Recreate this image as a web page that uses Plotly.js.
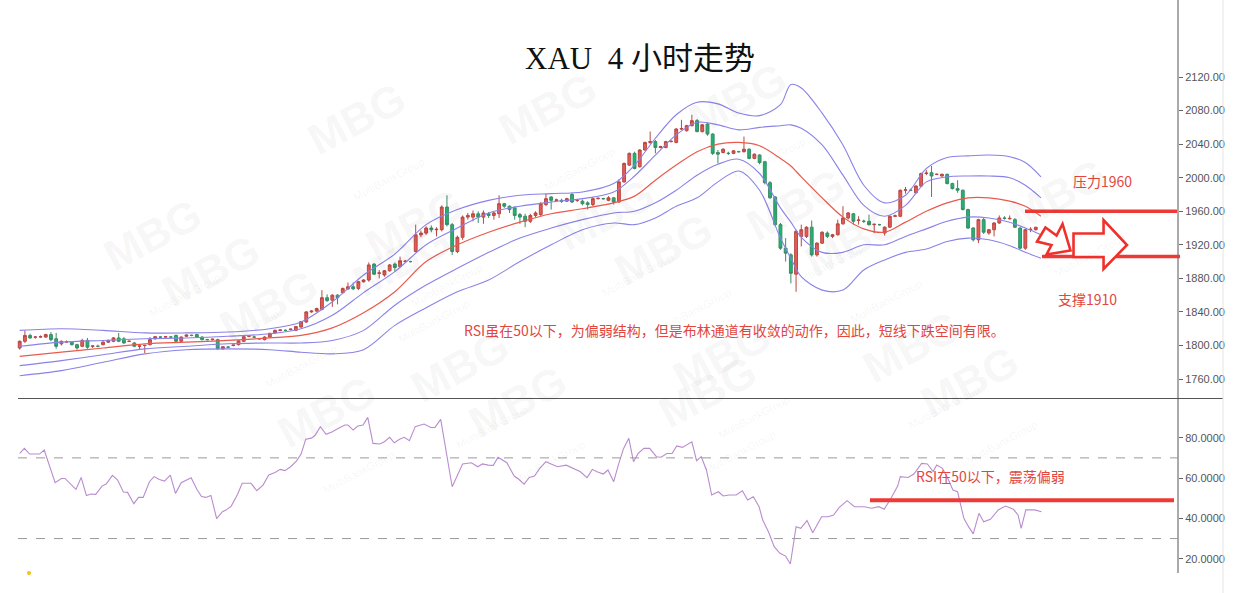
<!DOCTYPE html>
<html><head><meta charset="utf-8">
<script src="https://cdn.plot.ly/plotly-3.0.1.min.js"></script>
<style>html,body{margin:0;padding:0;background:#fff}#chart{width:1242px;height:593px}</style>
</head><body><div id="chart"></div>
<script>
// ---------- DATA ----------
const chartTitle = 'XAU  4 小时走势';
const opens  = [1797,1805,1812,1810,1810,1810,1813,1808,1802,1804,1804,1801,1799,1806,1799,1799,1801,1804,1805,1809,1808,1805,1803,1799,1800,1801,1808,1810,1810,1810,1812,1805,1811,1812,1813,1810,1807,1807,1807,1796,1798,1800,1801,1805,1811,1810,1808,1807,1810,1815,1818,1818,1819,1818,1822,1828,1840,1841,1843,1857,1854,1860,1863,1867.5,1870,1868,1876,1878,1897,1886,1884,1889,1897,1894,1900,1900,1912,1932,1934,1940,1938,1938,1965,1944,1912,1929,1953,1953,1957,1953,1957,1955,1957,1969,1966,1964,1956,1954,1948,1955,1956,1968,1977,1973,1973,1972,1980,1973,1972,1970,1968,1975,1975,1973,1976,1971,1995,2015,2029,2013,2033,2042,2043,2036,2036,2043,2042,2058,2056,2062,2068,2055,2064,2052,2030,2030,2029,2029,2031,2031,2034,2023,2027,2019,1994,1977,1944,1916,1908,1885,1930,1930,1941,1908,1922,1934,1930,1932,1945,1952,1957,1949,1948,1948,1944,1944,1934,1941,1954,1954,1985,1985,1982,1990,2005,2006,2004,2002,2004,1993,1987,1985,1962,1940,1926,1950,1934,1938,1946,1952,1951,1950,1940,1916,1938,1938];
const highs  = [1806,1818,1814,1811,1812,1814,1816,1815,1806,1806,1805,1802,1808,1809,1800,1801,1805,1807,1810,1815,1810,1806,1804,1800,1801,1810,1811,1811,1811,1811,1813,1811,1813,1813,1814,1811,1808,1808,1808,1799,1799,1801,1806,1811,1812,1811,1809,1811,1815,1819,1819,1819,1820,1823,1829,1841,1842,1845,1866,1861,1861,1861,1869,1875,1875,1877,1879,1899,1898,1890,1890,1897,1899,1906,1902,1901,1944,1937,1942,1943,1941,1967,1979,1946,1931,1955,1958,1961,1960,1961,1959,1960,1979,1970,1967,1966,1958,1957,1957,1960,1971,1981,1978,1975,1975,1976,1982,1974,1974,1972,1977,1976,1976,1978,1977,1998,2018,2030,2031,2034,2043,2055,2045,2038,2044,2044,2059,2069,2063,2075,2070,2064,2065,2053,2033,2035,2031,2033,2032,2049,2035,2029,2028,2020,1996,1978,1946,1928,1910,1938,1944,1942,1949,1923,1936,1936,1933,1950,1966,1959,1958,1954,1950,1956,1945,1945,1942,1955,1956,1986,1989,1987,1991,2006,2009,2014,2005,2005,2005,1994,1997,1986,1963,1941,1951,1952,1939,1947,1955,1954,1955,1952,1941,1939,1941,1941];
const lows   = [1795,1803,1808,1808,1809,1809,1805,1796,1800,1803,1800,1795,1798,1796,1797,1798,1800,1803,1804,1804,1802,1804,1798,1795,1791,1800,1807,1809,1809,1809,1804,1804,1810,1811,1809,1806,1806,1806,1795,1795,1797,1799,1800,1804,1810,1809,1807,1806,1809,1814,1817,1817,1818,1817,1821,1827,1839,1840,1842,1852,1846,1849,1862,1866,1866,1866,1875,1876,1884,1880,1882,1888,1888,1893,1899,1899,1911,1929,1932,1935,1930,1936,1942,1908,1910,1926,1950,1948,1946,1945,1952,1950,1952,1964,1958,1950,1945,1941,1946,1953,1954,1966,1962,1971,1970,1971,1970,1971,1967,1962,1966,1974,1974,1972,1968,1970,1994,2014,2010,2012,2032,2040,2029,2035,2035,2042,2041,2057,2055,2061,2054,2054,2050,2027,2017,2029,2027,2028,2030,2030,2022,2022,2016,1992,1975,1942,1914,1900,1874,1864,1918,1928,1906,1906,1921,1928,1928,1931,1944,1950,1944,1944,1946,1943,1934,1943,1931,1940,1953,1953,1981,1984,1981,1989,2003,1977,2003,2001,1992,1986,1982,1961,1939,1924,1922,1933,1932,1930,1945,1950,1950,1940,1915,1914,1935,1937];
const closes = [1805,1812,1809,1810,1810.5,1813,1807,1799,1805,1804.5,1801,1797,1806,1798,1799.5,1799,1804,1806,1809,1805,1803,1805,1799,1799.5,1800,1807,1810.5,1810,1810.5,1810,1805,1810,1812.5,1812,1810,1807,1807,1807.5,1796,1798.5,1798,1800.5,1805.5,1810.5,1811,1810,1808,1810,1814.5,1818,1818.5,1818,1819.5,1822.5,1828.5,1840,1841,1844,1857,1853.5,1860,1857,1868,1870,1867.5,1876,1878,1896,1885,1886.5,1889,1896,1893,1901,1900.5,1900,1932,1934,1940,1938,1938.5,1965,1944,1912,1929,1953,1955,1957,1953,1958,1955,1958,1969,1966,1962,1955,1953,1948,1955,1958,1969,1975,1973,1973.5,1972,1975,1971,1973,1969,1968,1975,1975.5,1975,1976,1971,1995,2017,2029,2011,2033,2042,2043,2036,2037,2043,2043.5,2058,2058.5,2062,2068,2055,2063,2052,2029,2028,2034,2029,2032,2031,2034,2023,2028,2018,1994,1976,1944,1916,1910,1886,1936,1938,1941,1908,1922,1935,1930,1932,1945,1952,1958,1948,1949.5,1948,1944,1944.5,1944,1941,1954,1954.5,1985,1985.5,1985,1990,2005,2005.5,2002,2004,2004,1993,1987,1985,1962,1940,1926,1950,1935,1938,1946,1952,1951.5,1951.5,1941,1916,1938,1938.5,1941];

// Bollinger band lines read at sample candle positions
const bandIdx   = [0,8,16,24,32,40,48,54,60,66,72,78,84,90,96,102,108,114,118,122,126,130,134,138,142,146,148,150,154,158,162,166,170,174,178,182,186,190,193,196];
const bandUpper2= [1818,1820,1818,1815,1815,1816,1820,1828,1852,1884,1909,1944,1962,1973,1979,1981,1983,1993,2015,2047,2075,2090,2088,2077,2074,2087,2111,2107,2077,2039,1991,1970,1979,2011,2024,2026,2027,2025,2018,2001];
const bandUpper1= [1799,1804,1806,1808,1809,1811,1814,1820,1836,1863,1888,1920,1940,1958,1966,1971,1975,1983,2002,2027,2051,2066,2063,2057,2060,2062,2063,2059,2039,2003,1967,1954,1967,1995,2001,2002,2002,2000,1991,1976];
const bandMid   = [1787,1792,1797,1802,1804,1806,1809,1812,1821,1839,1864,1900,1920,1935,1947,1957,1963,1970,1978,1997,2015,2031,2040,2042,2038,2023,2014,2001,1976,1953,1939,1935,1947,1960,1970,1976,1976,1972,1966,1954];
const bandLower1= [1776,1782,1789,1796,1799,1802,1803,1803,1806,1818,1848,1872,1892,1911,1928,1940,1950,1958,1960,1970,1985,2003,2016,2022,2005,1964,1947,1929,1911,1911,1920,1920,1930,1939,1948,1953,1952,1947,1940,1932];
const bandLower2= [1764,1770,1780,1790,1795,1796,1795,1792,1790,1795,1824,1845,1864,1878,1900,1920,1938,1946,1944,1952,1966,1976,1995,2008,1985,1928,1904,1882,1866,1866,1890,1902,1911,1915,1924,1928,1926,1919,1911,1904];

// RSI line vertices
const rsiX = [0,0.9,1.9,3.8,4.7,6.8,8.0,8.7,10.8,11.8,12.8,13.7,14.6,15.8,16.6,17.8,18.8,19.9,20.7,21.9,22.8,23.7,24.9,25.8,26.8,27.8,28.9,29.9,31.0,31.9,32.9,34.0,34.9,35.7,36.7,37.8,38.9,39.6,40.6,41.8,42.7,44.4,45.5,46.7,47.8,49.0,50.0,50.9,52.0,53.1,54.0,54.9,56.0,56.7,57.7,58.8,60.0,61.1,62.4,63.0,64.0,64.9,65.9,66.8,67.8,69.1,70.0,71.0,71.9,72.9,73.8,74.8,75.9,77.6,78.9,79.7,80.8,83.0,85.0,86.7,87.9,88.8,89.9,90.9,91.8,93.5,94.9,95.8,96.8,97.8,98.8,99.8,101.0,102.1,103.2,104.9,106.3,107.6,108.9,109.9,110.8,112.0,112.9,114.0,114.9,115.9,116.9,117.8,118.7,119.8,120.9,122.2,123.1,124.2,125.2,126.1,127.2,129.0,129.9,130.8,131.8,132.8,134.1,135.0,136.2,137.5,138.7,139.7,140.8,141.9,142.6,143.7,144.8,145.9,147.0,147.9,149.0,149.9,151.1,152.2,153.9,155.1,156.2,157.3,158.8,160.2,162.1,163.5,164.9,165.9,167.2,168.5,169.0,170.5,171.6,173.1,174.2,175.3,176.0,177.1,178.2,179.1,180.0,181.2,182.1,183.0,184.1,185.0,186.3,187.8,189.2,190.7,191.6,192.2,193.1,194.8,196.1];
const rsiY = [72.2,74.7,71.9,71.9,73.9,57.7,59.8,59.8,54.4,60.3,51.3,52.1,51.9,56.0,57.0,61.3,59.0,53.1,52.9,47.3,50.4,50.4,58.2,60.7,59.3,58.5,61.5,52.4,57.7,59.0,60.2,54.4,50.8,50.4,51.4,39.9,43.3,44.1,46.1,51.9,57.4,57.4,53.7,56.5,61.5,62.8,64.3,63.7,65.6,68.4,71.9,79.2,79.8,81.2,85.5,81.7,83.0,84.6,86.3,86.3,83.8,85.8,86.3,90.1,77.2,76.9,78.0,80.2,77.5,79.2,80.2,78.5,85.5,86.8,85.1,85.1,89.1,55.7,67.0,67.6,65.6,67.0,66.4,66.3,70.3,67.6,61.0,59.4,57.0,60.3,61.0,64.8,68.1,66.8,65.6,66.4,64.8,63.1,60.2,64.3,63.1,62.0,64.0,58.2,66.5,74.7,79.7,68.1,72.2,74.7,74.7,70.6,70.3,72.2,72.2,75.9,75.2,78.0,68.6,70.6,64.0,51.6,53.2,51.1,51.6,51.6,53.7,49.1,50.7,45.8,39.2,33.4,26.0,22.7,21.3,17.4,35.9,35.1,38.9,32.9,40.8,40.8,41.7,45.5,48.8,45.8,45.8,45.0,45.8,44.5,49.9,56.0,60.7,60.3,62.0,67.3,67.0,63.2,66.5,64.8,59.4,54.1,53.2,40.0,35.9,32.3,42.5,38.3,39.5,44.2,46.1,44.5,41.7,35.1,44.2,44.2,43.3];

const priceTicks = [1760,1800,1840,1880,1920,1960,2000,2040,2080,2120];
const rsiTicks = [20,40,60,80];
const rsiLevels = [70,30];
const resistance = {label:'压力1960', value:1960};
const support = {label:'支撑1910', value:1906};
const rsiMark = {label:'RSI在50以下，震荡偏弱', value:49};
const noteText = 'RSI虽在50以下，为偏弱结构，但是布林通道有收敛的动作，因此，短线下跌空间有限。';

// ---------- LAYOUT HELPERS (pixel -> paper) ----------
const W = 1242, H = 593, PW = 1178;
const px = x => x / PW, py = y => 1 - y / H;
const P = (x, y) => px(x).toFixed(4) + ',' + py(y).toFixed(4);
const candleX = opens.map((_, i) => i);

const bandLine = (y, color, w) => ({type:'scatter', mode:'lines', x:bandIdx, y:y, xaxis:'x', yaxis:'y',
  line:{color:color, width:w, shape:'spline', smoothing:0.9}, hoverinfo:'skip'});

const traces = [
  bandLine(bandUpper2, '#8a82e8', 1.1),
  bandLine(bandUpper1, '#8a82e8', 1.1),
  bandLine(bandMid, '#ea5a4c', 1.2),
  bandLine(bandLower1, '#8a82e8', 1.1),
  bandLine(bandLower2, '#8a82e8', 1.1),
  {type:'candlestick', x:candleX, open:opens, high:highs, low:lows, close:closes, xaxis:'x', yaxis:'y',
   increasing:{fillcolor:'#e65a56', line:{color:'#b84843', width:1}},
   decreasing:{fillcolor:'#22b274', line:{color:'#3a8d66', width:1}},
   whiskerwidth:0, hoverinfo:'skip'},
  {type:'scatter', mode:'lines', x:rsiX, y:rsiY, xaxis:'x2', yaxis:'y2',
   line:{color:'#b98ccf', width:1.1}, hoverinfo:'skip'}
];

const shapes = [
  {type:'line', xref:'paper', yref:'paper', x0:px(18), x1:px(1223), y0:py(398.5), y1:py(398.5), line:{color:'#555', width:1.2}},
  {type:'line', xref:'paper', yref:'paper', x0:1, x1:1, y0:py(0), y1:py(573), line:{color:'#555', width:1}},
  {type:'line', xref:'paper', yref:'paper', x0:px(1223), x1:px(1223), y0:py(0), y1:py(593), line:{color:'#e4e4e4', width:1}},
  ...rsiLevels.map(v => ({type:'line', xref:'paper', yref:'y2', x0:px(18), x1:1, y0:v, y1:v, line:{color:'#9a9a9a', width:1, dash:'dash'}})),
  {type:'line', xref:'paper', yref:'y', x0:px(1025), x1:px(1177), y0:resistance.value, y1:resistance.value, line:{color:'#ee3a36', width:3.5}},
  {type:'line', xref:'paper', yref:'y', x0:px(1042), x1:px(1180), y0:support.value, y1:support.value, line:{color:'#ee3a36', width:3.5}},
  {type:'line', xref:'paper', yref:'y2', x0:px(870), x1:px(1174), y0:rsiMark.value, y1:rsiMark.value, line:{color:'#ee3a36', width:4}},
  {type:'path', xref:'paper', yref:'paper', fillcolor:'#ffffff', line:{color:'#f0302c', width:2.6},
   path:'M'+P(1045.5,227.5)+' L'+P(1056.5,235.5)+' L'+P(1062.5,224)+' L'+P(1070.5,250.5)+' L'+P(1046.5,254.5)+' L'+P(1051.5,245)+' L'+P(1037,241.5)+' Z'},
  {type:'path', xref:'paper', yref:'paper', fillcolor:'#ffffff', line:{color:'#f0302c', width:2.6},
   path:'M'+P(1073.5,233.5)+' L'+P(1103.5,233.5)+' L'+P(1103.5,220)+' L'+P(1127,245)+' L'+P(1103.5,269)+' L'+P(1103.5,257)+' L'+P(1073.5,257)+' Z'},
  {type:'circle', xref:'paper', yref:'paper', x0:px(27), x1:px(31), y0:py(575), y1:py(571), fillcolor:'#f4c20d', line:{width:0}}
];

const red = '#e2463f';
const cjk = 'Noto Sans CJK SC, Noto Sans, sans-serif';
const annotations = [
  {xref:'paper', yref:'paper', x:px(1102), y:py(181), text:resistance.label, showarrow:false, xanchor:'center', yanchor:'middle', font:{family:cjk, size:14, color:red}},
  {xref:'paper', yref:'paper', x:px(1087), y:py(299), text:support.label, showarrow:false, xanchor:'center', yanchor:'middle', font:{family:cjk, size:14, color:red}},
  {xref:'paper', yref:'paper', x:px(734), y:py(330), text:noteText, showarrow:false, xanchor:'center', yanchor:'middle', font:{family:cjk, size:14, color:red}},
  {xref:'paper', yref:'paper', x:px(990), y:py(476), text:rsiMark.label, showarrow:false, xanchor:'center', yanchor:'middle', font:{family:cjk, size:14, color:red}}
];
// faint "MBG" watermarks (decoration lattice, kept fully inside the frame)
for (let r = -2; r <= 6; r++) {
  for (let c = -3; c <= 5; c++) {
    const wx = 297 + c * 262 + r * 58, wy = 70 - c * 10 + r * 106;
    if (wx < 70 || wx > 1150 || wy < 45 || wy > 545) continue;
    annotations.push({xref:'paper', yref:'paper', x:px(wx), y:py(wy), showarrow:false, textangle:-28,
      text:'<b>MBG</b><br><span style="font-size:11px">MultiBankGroup</span>', align:'center',
      font:{family:'Liberation Sans, Arial, sans-serif', size:44, color:'rgba(0,0,0,0.05)'}});
  }
}

const tickFont = {family:'Liberation Sans, Arial, sans-serif', size:11, color:'#555'};
const layout = {
  width:W, height:H, margin:{l:0, r:W-PW, t:0, b:0},
  paper_bgcolor:'#ffffff', plot_bgcolor:'rgba(0,0,0,0)', showlegend:false,
  title:{text:chartTitle, x:640/W, xref:'container', y:py(58), yref:'container', xanchor:'center', yanchor:'middle',
         font:{family:'Liberation Serif, Noto Sans CJK SC, serif', size:31, color:'#111'}},
  boxgap:0.22,
  xaxis:{domain:[0,1], range:[-3.78, 222.3], visible:false, rangeslider:{visible:false}, anchor:'y', fixedrange:true},
  xaxis2:{domain:[0,1], range:[-3.78, 222.3], visible:false, anchor:'y2', matches:'x', fixedrange:true},
  yaxis:{domain:[py(398), 1], range:[1737.4, 2211.8], side:'right', anchor:'x', tickvals:priceTicks, tickformat:'.2f',
         ticks:'outside', ticklen:4, tickcolor:'#666', tickfont:tickFont, showgrid:false, zeroline:false, showline:false, fixedrange:true},
  yaxis2:{domain:[0, py(399)], range:[3.0, 99.2], side:'right', anchor:'x2', tickvals:rsiTicks, tickformat:'.4f',
          ticks:'outside', ticklen:4, tickcolor:'#666', tickfont:tickFont, showgrid:false, zeroline:false, showline:false, fixedrange:true},
  shapes:shapes, annotations:annotations
};

Plotly.newPlot('chart', traces, layout, {displayModeBar:false, staticPlot:true});
</script>
</body></html>
